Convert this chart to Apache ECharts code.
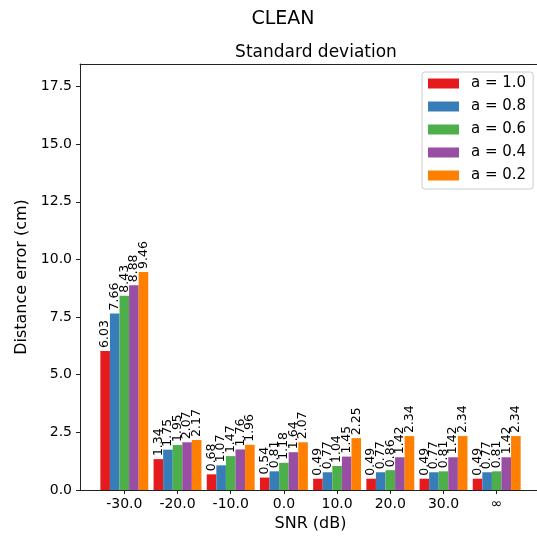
<!DOCTYPE html>
<html>
<head>
<meta charset="utf-8">
<script src="https://cdn.jsdelivr.net/npm/echarts@6/dist/echarts.min.js"></script>
<style>
  html, body { margin: 0; padding: 0; background: #fff; }
  #main { width: 537px; height: 543px; }
</style>
</head>
<body>
<div id="main"></div>
<script>
// SNR levels on the x axis
var snrLabels = ['-30.0', '-20.0', '-10.0', '0.0', '10.0', '20.0', '30.0', '∞'];
var seriesNames = ['a = 1.0', 'a = 0.8', 'a = 0.6', 'a = 0.4', 'a = 0.2'];
var colors = ['#e41a1c', '#377eb8', '#4daf4a', '#984ea3', '#ff7f00'];

// standard deviation of the distance error (cm)
var a10 = [6.03, 1.34, 0.68, 0.54, 0.49, 0.49, 0.49, 0.49];
var a08 = [7.66, 1.75, 1.07, 0.81, 0.77, 0.77, 0.77, 0.77];
var a06 = [8.43, 1.95, 1.47, 1.18, 1.04, 0.86, 0.81, 0.81];
var a04 = [8.88, 2.07, 1.76, 1.64, 1.45, 1.42, 1.42, 1.42];
var a02 = [9.46, 2.17, 1.96, 2.07, 2.25, 2.34, 2.34, 2.34];
var allValues = [a10, a08, a06, a04, a02];

var yTicks = [0, 2.5, 5, 7.5, 10, 12.5, 15, 17.5];
var yMax = 18.48;

var font = 'DejaVu Sans';
var myChart = echarts.init(document.getElementById('main'));

var series = [];
for (var i = 0; i < allValues.length; i++) {
    series.push({
        name: seriesNames[i],
        type: 'bar',
        xAxisIndex: 2,
        yAxisIndex: 1,
        data: allValues[i],
        barGap: '0%',
        barCategoryGap: '10%',
        itemStyle: { color: colors[i] },
        label: {
            show: true,
            position: 'top',
            rotate: 90,
            align: 'left',
            verticalAlign: 'middle',
            distance: 3,
            fontFamily: font,
            fontSize: 12.5,
            color: '#000',
            formatter: function (p) { return p.value.toFixed(2); }
        }
    });
}

// frame lines (left, bottom, top) of the axes box
var frameLine = { show: true, lineStyle: { color: '#222', width: 1 } };

var option = {
    animation: false,
    backgroundColor: '#fff',
    textStyle: { fontFamily: font },
    title: [{
        text: 'CLEAN',
        left: 278,
        top: 5,
        textAlign: 'center',
        textStyle: { fontFamily: font, fontSize: 19, fontWeight: 'normal', color: '#000' }
    }, {
        text: 'Standard deviation',
        left: 311,
        top: 39,
        textAlign: 'center',
        textStyle: { fontFamily: font, fontSize: 17, fontWeight: 'normal', color: '#000' }
    }],
    legend: {
        orient: 'vertical',
        left: 422,
        top: 72,
        data: seriesNames,
        icon: 'rect',
        itemWidth: 31,
        itemHeight: 10,
        itemGap: 8,
        padding: [4, 7, 6, 6],
        borderColor: '#cccccc',
        borderWidth: 1,
        borderRadius: 3,
        backgroundColor: 'rgba(255,255,255,0.8)',
        textStyle: { fontFamily: font, fontSize: 15, lineHeight: 15, color: '#000', padding: [0, 0, 0, 7] }
    },
    grid: [{
        left: 80, top: 64, width: 480, height: 426
    }, {
        left: 97.7, top: 64, width: 425.6, height: 426
    }],
    xAxis: [{
        gridIndex: 0, type: 'value', min: 0, max: 1, position: 'bottom',
        axisLine: frameLine, axisTick: { show: false }, axisLabel: { show: false }, splitLine: { show: false }
    }, {
        gridIndex: 0, type: 'value', min: 0, max: 1, position: 'top',
        axisLine: frameLine, axisTick: { show: false }, axisLabel: { show: false }, splitLine: { show: false }
    }, {
        gridIndex: 1,
        type: 'category',
        data: snrLabels,
        axisLine: { show: false },
        axisTick: { show: true, alignWithLabel: true, length: 4, lineStyle: { color: '#222' } },
        axisLabel: { margin: 7, fontFamily: font, fontSize: 14, color: '#000' },
        name: 'SNR (dB)',
        nameLocation: 'middle',
        nameGap: 25,
        nameTextStyle: { fontFamily: font, fontSize: 16, color: '#000' }
    }],
    yAxis: [{
        gridIndex: 0, type: 'value', min: 0, max: 1,
        axisLine: frameLine, axisTick: { show: false }, axisLabel: { show: false }, splitLine: { show: false }
    }, {
        gridIndex: 1,
        type: 'value',
        min: 0,
        max: yMax,
        interval: 2.5,
        offset: 17.7,
        axisLine: { show: false },
        axisTick: { show: true, length: 4, lineStyle: { color: '#222' } },
        splitLine: { show: false },
        axisLabel: {
            margin: 8,
            fontFamily: font,
            fontSize: 14,
            color: '#000',
            showMaxLabel: false,
            formatter: function (v) {
                return yTicks.indexOf(v) >= 0 ? v.toFixed(1) : '';
            }
        },
        name: 'Distance error (cm)',
        nameLocation: 'middle',
        nameGap: 47,
        nameTextStyle: { fontFamily: font, fontSize: 16, color: '#000' }
    }],
    series: series
};

myChart.setOption(option);
window.addEventListener('resize', function () {
    myChart.resize();
});
</script>
</body>
</html>
